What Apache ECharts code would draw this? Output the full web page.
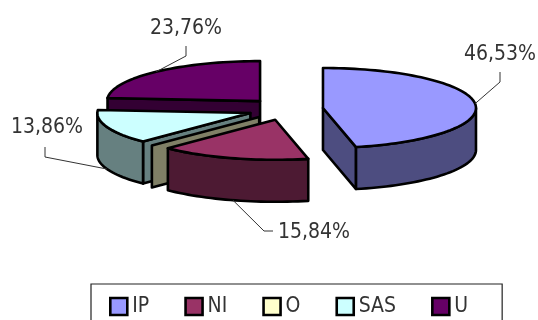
<!DOCTYPE html>
<html>
<head>
<meta charset="utf-8">
<style>html,body{margin:0;padding:0;background:#fff}#c{width:538px;height:320px}</style>
<script src="https://cdn.jsdelivr.net/npm/echarts@6/dist/echarts.min.js"></script>
</head>
<body>
<div id="c"></div>
<script>
// Shares per category, in percent, clockwise from twelve o'clock
const categories = ['IP', 'NI', 'O', 'SAS', 'U'];
const shares = [46.53, 15.84, 0, 13.86, 23.76];
const topColors = ['#9999FF', '#993366', '#FFFFCC', '#CCFFFF', '#660066'];
const sideColors = ['#4D4D80', '#4D1A33', '#808066', '#668080', '#330033'];

// Tilted-disc geometry
const pie = { cx: 285.6, cy: 109.2, rx: 153, ry: 40, depth: 42, explodeX: 37.6, explodeY: 11 };
const stackOrder = [5, 4, 3, 2, 1];
const FONT = '"DejaVu Sans Condensed", "DejaVu Sans"';

// Label placement: elbow of the leader, its end, text anchor and alignment
const labelLayout = [
  { elbow: [500, 82], end: [500, 72], text: [500, 55], align: 'center' },
  { elbow: [264, 231], end: [273, 231], text: [278, 233], align: 'left' },
  null,
  { elbow: [45, 157], end: [45, 147], text: [47, 128], align: 'center' },
  { elbow: [186, 56], end: [186, 46], text: [186, 29], align: 'center' }
];

const total = shares.reduce((a, b) => a + b, 0);
const rad = d => d * Math.PI / 180;

function startAngle(index) {
  let sum = 0;
  for (let i = 0; i < index; i++) sum += shares[i];
  return sum / total * 360;
}

// Point on the rim of a disc centred at c, at an angle measured clockwise from the top
function rim(c, deg) {
  return [c[0] + pie.rx * Math.sin(rad(deg)), c[1] - pie.ry * Math.cos(rad(deg))];
}
const drop = p => [p[0], p[1] + pie.depth];

function arc(c, from, to) {
  const pts = [];
  const steps = Math.max(1, Math.ceil((to - from) / 2));
  for (let i = 0; i <= steps; i++) pts.push(rim(c, from + (to - from) * i / steps));
  return pts;
}

function face(points, fill) {
  return { type: 'polygon', shape: { points }, style: { fill, stroke: '#000', lineWidth: 2.6, lineJoin: 'round' } };
}

function drawSlice(index, value) {
  const from = startAngle(index);
  const to = from + value / total * 360;
  const mid = (from + to) / 2;
  const c = [
    pie.cx + pie.explodeX * Math.sin(rad(mid)),
    pie.cy - pie.explodeY * Math.cos(rad(mid))
  ];
  const side = sideColors[index];
  const children = [];

  // Radial cut faces that turn toward the viewer
  if (Math.sin(rad(from)) < -1e-6) {
    const e = rim(c, from);
    children.push(face([c, e, drop(e), drop(c)], side));
  }
  if (to > from && Math.sin(rad(to)) > 1e-6) {
    const e = rim(c, to);
    children.push(face([c, e, drop(e), drop(c)], side));
  }
  // Outer wall on the near half of the disc
  const a = Math.max(from, 90), b = Math.min(to, 270);
  if (b > a) {
    const upper = arc(c, a, b);
    children.push(face(upper.concat(upper.map(drop).reverse()), side));
  }
  // Top surface
  if (to > from) children.push(face([c].concat(arc(c, from, to)), topColors[index]));

  // Value label with its leader
  const layout = labelLayout[index];
  if (layout) {
    let start = rim(c, mid);
    if (Math.cos(rad(mid)) < 0 && index !== 0) start = drop(start);
    children.push({
      type: 'polyline',
      shape: { points: [start, layout.elbow, layout.end] },
      style: { fill: 'none', stroke: '#333', lineWidth: 1 }
    });
    children.push({
      type: 'text',
      style: {
        text: value.toFixed(2).replace('.', ',') + '%',
        x: layout.text[0], y: layout.text[1],
        align: layout.align, verticalAlign: 'middle',
        fontFamily: FONT, fontSize: 21, fill: '#333'
      }
    });
  }
  return { type: 'group', children };
}

const chart = echarts.init(document.getElementById('c'), null, { renderer: 'canvas' });
chart.setOption({
  animation: false,
  backgroundColor: '#fff',
  legend: {
    data: categories,
    left: 91, top: 284,
    padding: [12, 34, 14, 18],
    itemGap: 35, itemWidth: 17, itemHeight: 17,
    icon: 'rect',
    borderColor: '#222', borderWidth: 1.2,
    selectedMode: false,
    itemStyle: { borderColor: '#000', borderWidth: 2.6 },
    textStyle: { fontFamily: FONT, fontSize: 21, color: '#333' }
  },
  series: categories.map((name, i) => ({
    type: 'custom',
    name,
    coordinateSystem: 'none',
    silent: true,
    z: stackOrder[i],
    itemStyle: { color: topColors[i] },
    data: [[shares[i]]],
    renderItem: (params, api) => drawSlice(i, api.value(0))
  }))
});
</script>
</body>
</html>
